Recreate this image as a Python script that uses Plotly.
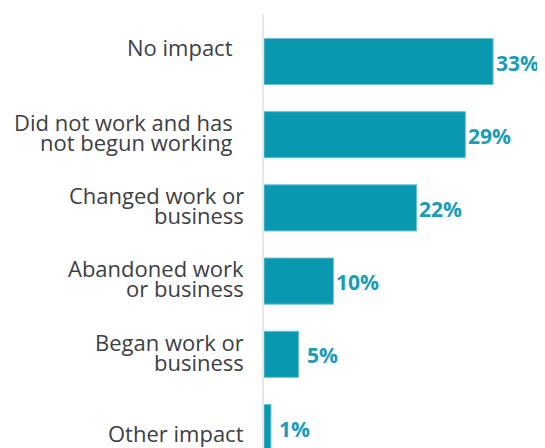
import plotly.graph_objects as go

categories = [
    "No impact",
    "Did not work and has not begun working",
    "Changed work or business",
    "Abandoned work or business",
    "Began work or business",
    "Other impact",
]
# label lines as displayed (wrapped) next to each bar
label_lines = [
    ["No impact\u00a0\u00a0"],
    ["Did not work and has\u00a0\u00a0", "not begun working\u00a0\u00a0"],
    ["Changed work or", "business"],
    ["Abandoned work", "or business"],
    ["Began work or", "business"],
    ["Other impact"],
]
values = [33, 29, 22, 10, 5, 1]
value_labels = ["33%", "29%", "22%", "10%", "5%", "1%"]

# style: vertical nudge (px, up positive) of each category label block
LABEL_NUDGE = [15, 3, 3, 3, 2, -5]

BAR = "#0898B0"
TXT = "#1A9DB5"
LABEL = "#3d4043"
FONT = "Open Sans"
LINE_H = 20
VALUE_OFFSET = 24  # px from bar end to centre of value label

fig = go.Figure(
    go.Bar(
        x=values,
        y=categories,
        orientation="h",
        width=0.63,
        marker=dict(color=BAR, line=dict(color="#6cc3d2", width=1)),
        hoverinfo="skip",
    )
)

for cat, v, lab in zip(categories, values, value_labels):
    fig.add_annotation(
        x=v, xref="x", xanchor="center", xshift=VALUE_OFFSET,
        y=cat, yref="y", yanchor="middle", yshift=-1,
        text=f"<b>{lab}</b>", showarrow=False, borderpad=0,
        font=dict(family=FONT, size=21, color=TXT),
    )

for cat, lines, nudge in zip(categories, label_lines, LABEL_NUDGE):
    n = len(lines)
    for i, line in enumerate(lines):
        fig.add_annotation(
            x=0, xref="paper", xanchor="right", xshift=-19,
            y=cat, yref="y", yanchor="middle",
            yshift=((n - 1) / 2 - i) * LINE_H + nudge,
            text=line, showarrow=False, borderpad=0,
            font=dict(family=FONT, size=22, color=LABEL),
        )

fig.update_layout(
    width=537,
    height=440,
    margin=dict(l=256, r=4, t=6, b=0, autoexpand=False),
    paper_bgcolor="white",
    plot_bgcolor="white",
    showlegend=False,
    font=dict(family=FONT, size=20, color=LABEL),
)
fig.update_xaxes(
    range=[0, 39.9],
    visible=False,
    showgrid=False,
    zeroline=False,
)
fig.update_yaxes(
    type="category",
    range=[5.28, -0.649],
    automargin=False,
    showgrid=False,
    zeroline=False,
    showline=True,
    linecolor="#e8e8e8",
    linewidth=2,
    ticks="",
    showticklabels=False,
)

fig.write_html("out.html")
